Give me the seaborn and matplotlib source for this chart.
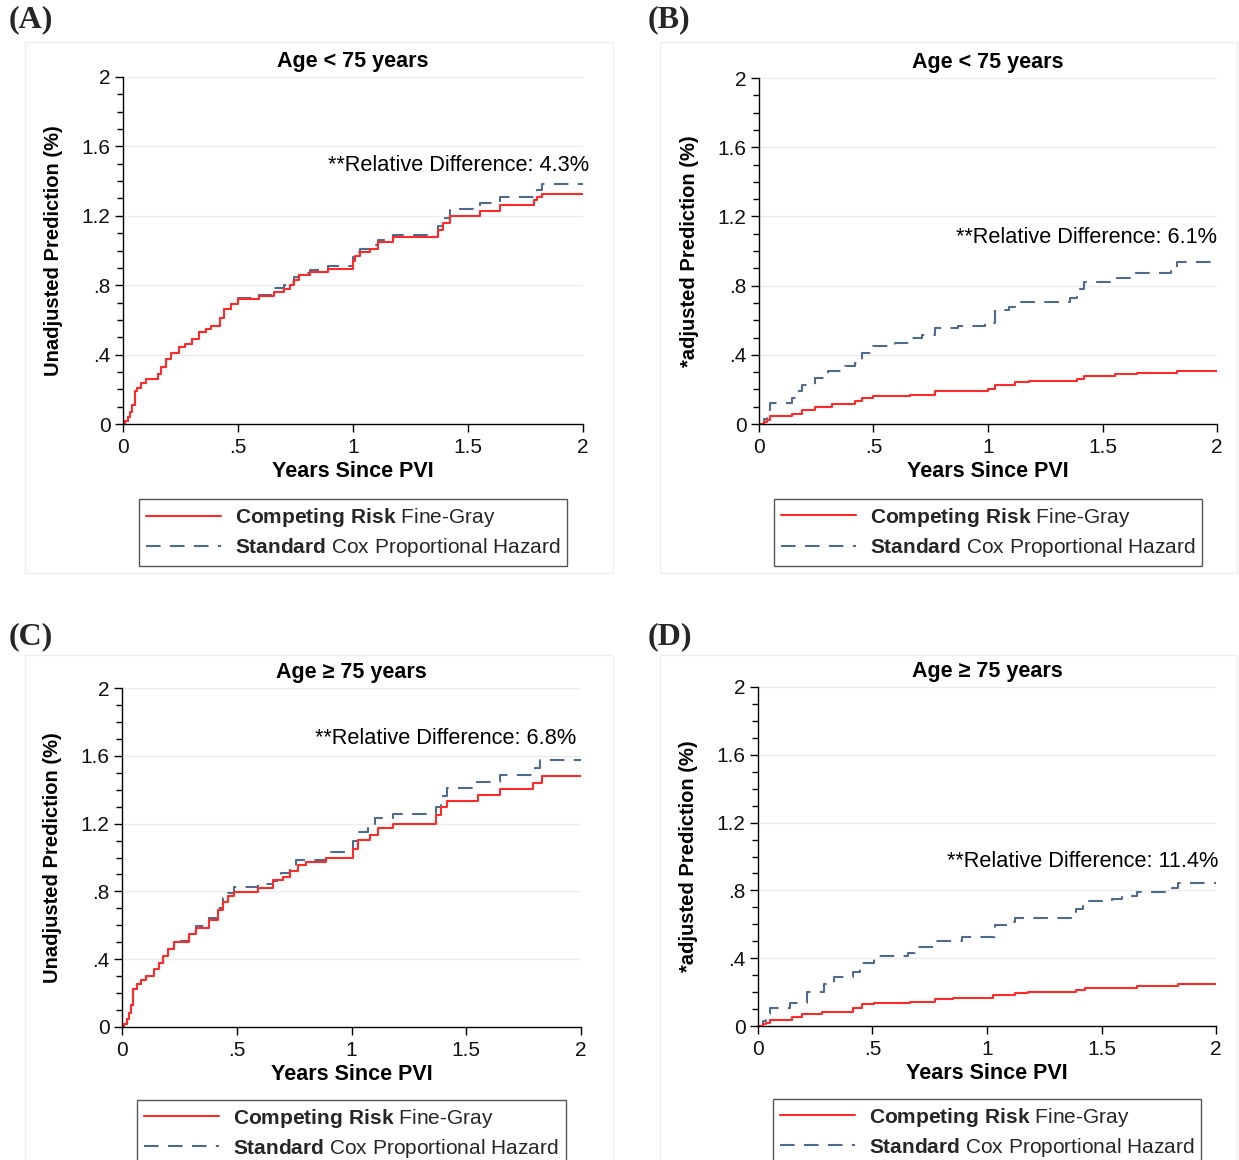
import numpy as np
import pandas as pd
import matplotlib
matplotlib.use("Agg")
import matplotlib.pyplot as plt
import seaborn as sns
from matplotlib.lines import Line2D
from matplotlib.patches import Rectangle

# ---------------- data ----------------
# Panel A: Age < 75, unadjusted
a_red_t = [0, 0.01, 0.02, 0.03, 0.04, 0.05, 0.06, 0.08, 0.10, 0.15, 0.165, 0.186, 0.21, 0.244, 0.27, 0.30, 0.331,
           0.36, 0.382, 0.42, 0.44, 0.47, 0.4985, 0.59, 0.655, 0.70, 0.724, 0.745, 0.767, 0.811, 0.891, 1.0, 1.01,
           1.029, 1.073, 1.109, 1.174, 1.37, 1.39, 1.421, 1.552, 1.64, 1.785, 1.80, 1.82, 2.0]
a_red_v = [0, 0.02, 0.04, 0.07, 0.11, 0.19, 0.21, 0.235, 0.26, 0.29, 0.33, 0.375, 0.41, 0.446, 0.46, 0.49, 0.529,
           0.55, 0.567, 0.61, 0.663, 0.69, 0.721, 0.74, 0.76, 0.779, 0.80, 0.83, 0.856, 0.875, 0.894, 0.94, 0.97,
           0.99, 1.01, 1.048, 1.077, 1.12, 1.16, 1.196, 1.227, 1.26, 1.29, 1.31, 1.327, 1.327]
a_blue_t = [0, 0.01, 0.02, 0.03, 0.04, 0.05, 0.06, 0.08, 0.10, 0.15, 0.165, 0.186, 0.21, 0.244, 0.27, 0.30, 0.331,
            0.36, 0.382, 0.42, 0.44, 0.47, 0.4985, 0.59, 0.655, 0.70, 0.724, 0.745, 0.767, 0.811, 0.891, 1.0, 1.01,
            1.029, 1.073, 1.109, 1.174, 1.37, 1.39, 1.421, 1.552, 1.64, 1.80, 1.82, 2.0]
a_blue_v = [0, 0.02, 0.04, 0.07, 0.11, 0.19, 0.21, 0.235, 0.26, 0.29, 0.33, 0.375, 0.41, 0.446, 0.46, 0.49, 0.529,
            0.55, 0.567, 0.61, 0.663, 0.69, 0.725, 0.744, 0.783, 0.80, 0.82, 0.845, 0.869, 0.885, 0.908, 0.96, 0.99,
            1.01, 1.03, 1.058, 1.087, 1.14, 1.19, 1.24, 1.273, 1.308, 1.35, 1.385, 1.385]

# Panel B: Age < 75, adjusted
b_red_t = [0, 0.02, 0.035, 0.048, 0.143, 0.186, 0.245, 0.318, 0.42, 0.449, 0.5, 0.66, 0.769, 1.0, 1.03,
           1.118, 1.177, 1.39, 1.418, 1.556, 1.65, 1.825, 2.0]
b_red_v = [0, 0.01, 0.025, 0.044, 0.058, 0.083, 0.098, 0.115, 0.131, 0.15, 0.16, 0.169, 0.192, 0.202, 0.227,
           0.24, 0.246, 0.262, 0.275, 0.288, 0.294, 0.304, 0.304]
b_blue_t = [0, 0.02, 0.035, 0.048, 0.143, 0.16, 0.186, 0.245, 0.303, 0.376, 0.42, 0.449, 0.5, 0.594, 0.66,
            0.711, 0.769, 0.871, 0.988, 1.03, 1.09, 1.118, 1.36, 1.39, 1.418, 1.556, 1.643, 1.80, 1.825, 2.0]
b_blue_v = [0, 0.03, 0.08, 0.121, 0.15, 0.19, 0.227, 0.265, 0.304, 0.333, 0.352, 0.413, 0.452, 0.467, 0.496,
            0.515, 0.554, 0.569, 0.583, 0.66, 0.679, 0.708, 0.727, 0.78, 0.823, 0.842, 0.871, 0.91, 0.938, 0.938]

# Panel C: Age >= 75, unadjusted
c_red_t = [0, 0.01, 0.02, 0.03, 0.04, 0.047, 0.065, 0.083, 0.105, 0.141, 0.16, 0.177, 0.2, 0.228, 0.29,
           0.323, 0.381, 0.42, 0.439, 0.46, 0.49, 0.592, 0.657, 0.701, 0.73, 0.767, 0.80, 0.891, 1.005, 1.028,
           1.079, 1.116, 1.181, 1.37, 1.39, 1.414, 1.552, 1.646, 1.792, 1.828, 2.0]
c_red_v = [0, 0.02, 0.05, 0.08, 0.13, 0.227, 0.255, 0.276, 0.3, 0.34, 0.38, 0.418, 0.46, 0.502, 0.55,
           0.587, 0.631, 0.69, 0.739, 0.77, 0.798, 0.822, 0.867, 0.887, 0.92, 0.956, 0.975, 0.995, 1.05, 1.103,
           1.133, 1.172, 1.197, 1.25, 1.30, 1.336, 1.369, 1.403, 1.438, 1.478, 1.478]
c_blue_t = [0, 0.01, 0.02, 0.03, 0.04, 0.047, 0.065, 0.083, 0.105, 0.141, 0.16, 0.177, 0.2, 0.228, 0.29,
            0.323, 0.381, 0.42, 0.439, 0.46, 0.49, 0.592, 0.657, 0.694, 0.73, 0.759, 0.891, 1.005, 1.028, 1.072,
            1.101, 1.181, 1.37, 1.39, 1.414, 1.545, 1.646, 1.80, 1.822, 2.0]
c_blue_v = [0, 0.02, 0.05, 0.08, 0.13, 0.227, 0.255, 0.276, 0.3, 0.34, 0.38, 0.418, 0.46, 0.505, 0.56,
            0.595, 0.645, 0.70, 0.759, 0.79, 0.828, 0.843, 0.86, 0.906, 0.94, 0.985, 1.034, 1.10, 1.153, 1.18,
            1.231, 1.255, 1.30, 1.36, 1.409, 1.448, 1.488, 1.53, 1.576, 1.576]

# Panel D: Age >= 75, adjusted
d_red_t = [0, 0.02, 0.035, 0.054, 0.148, 0.192, 0.279, 0.417, 0.454, 0.505, 0.665, 0.774, 0.85, 1.028,
           1.123, 1.181, 1.39, 1.428, 1.559, 1.654, 1.835, 2.0]
d_red_v = [0, 0.01, 0.02, 0.035, 0.051, 0.069, 0.084, 0.104, 0.13, 0.134, 0.143, 0.157, 0.163, 0.183,
           0.196, 0.198, 0.21, 0.222, 0.226, 0.236, 0.248, 0.248]
d_blue_t = [0, 0.02, 0.035, 0.054, 0.141, 0.214, 0.287, 0.33, 0.417, 0.447, 0.505, 0.657, 0.687, 0.767,
            0.891, 1.036, 1.094, 1.123, 1.39, 1.421, 1.545, 1.589, 1.654, 1.807, 1.835, 2.0]
d_blue_v = [0, 0.03, 0.07, 0.104, 0.138, 0.202, 0.248, 0.291, 0.32, 0.373, 0.413, 0.428, 0.464, 0.503,
            0.527, 0.595, 0.615, 0.64, 0.69, 0.739, 0.747, 0.766, 0.788, 0.817, 0.845, 0.845]

panel_letters = ["(A)", "(B)", "(C)", "(D)"]
panel_titles = ["Age < 75 years", "Age < 75 years", "Age \u2265 75 years", "Age \u2265 75 years"]
y_labels = ["Unadjusted Prediction (%)", "*adjusted Prediction (%)",
            "Unadjusted Prediction (%)", "*adjusted Prediction (%)"]
x_label = "Years Since PVI"
rel_diff = ["**Relative Difference: 4.3%", "**Relative Difference: 6.1%",
            "**Relative Difference: 6.8%", "**Relative Difference: 11.4%"]
y_ticks = [0, 0.4, 0.8, 1.2, 1.6, 2.0]
y_ticklabels = ["0", ".4", ".8", "1.2", "1.6", "2"]
x_ticks = [0, 0.5, 1.0, 1.5, 2.0]
x_ticklabels = ["0", ".5", "1", "1.5", "2"]
legend_labels = [r"$\mathbf{Competing\ Risk}$ Fine-Gray",
                 r"$\mathbf{Standard}$ Cox Proportional Hazard"]

series = [
    (a_red_t, a_red_v, a_blue_t, a_blue_v),
    (b_red_t, b_red_v, b_blue_t, b_blue_v),
    (c_red_t, c_red_v, c_blue_t, c_blue_v),
    (d_red_t, d_red_v, d_blue_t, d_blue_v),
]

# ---------------- style ----------------
sns.set_theme(style="white")
plt.rcParams["font.family"] = ["Liberation Sans", "DejaVu Sans"]
plt.rcParams["mathtext.fontset"] = "custom"
plt.rcParams["mathtext.rm"] = "Liberation Sans"
plt.rcParams["mathtext.bf"] = "Liberation Sans:bold"

RED = "#ff2a2a"
BLUE = "#4f6b8c"
W, H = 1239, 1160
fig = plt.figure(figsize=(W / 100, H / 100), dpi=100)
fig.patch.set_facecolor("white")

# axes rectangles (pixels: left, top, right, bottom)
rects = [(123, 77, 583, 424), (759, 78, 1217, 424), (122, 688, 581, 1027), (758, 687, 1216, 1026)]
boxes = [(25, 42, 613, 573), (660, 42, 1237, 573), (25, 655, 613, 1165), (660, 655, 1237, 1165)]
letter_pos = [(9, 20), (648, 20), (9, 637), (648, 637)]
note_pos = [(2.025, 1.49), (2.0, 1.08), (1.98, 1.70), (2.01, 0.97)]

for i in range(4):
    bx = boxes[i]
    fig.patches.append(Rectangle((bx[0] / W, 1 - bx[3] / H), (bx[2] - bx[0]) / W, (bx[3] - bx[1]) / H,
                                 transform=fig.transFigure, fill=False, edgecolor="#eeeeee", lw=1.0))
    l, t, r, b = rects[i]
    ax = fig.add_axes([l / W, 1 - b / H, (r - l) / W, (b - t) / H])
    ax.set_facecolor("white")
    rt, rv, bt, bv = series[i]
    df_r = pd.DataFrame({"t": rt, "v": rv})
    df_b = pd.DataFrame({"t": bt, "v": bv})
    sns.lineplot(data=df_b, x="t", y="v", ax=ax, color=BLUE, lw=1.5, drawstyle="steps-post",
                 estimator=None, sort=False)
    ax.lines[-1].set_dashes([7, 4.5])
    sns.lineplot(data=df_r, x="t", y="v", ax=ax, color=RED, lw=1.5, drawstyle="steps-post",
                 estimator=None, sort=False)

    ax.set_xlim(0, 2)
    ax.set_ylim(0, 2)
    ax.set_yticks(y_ticks)
    ax.set_yticklabels(y_ticklabels)
    ax.set_yticks(np.arange(0, 2.01, 0.1), minor=True)
    ax.set_xticks(x_ticks)
    ax.set_xticklabels(x_ticklabels)
    for yv in y_ticks[1:]:
        ax.axhline(yv, color="#ececec", lw=1.0, zorder=0)
    for s in ["top", "right"]:
        ax.spines[s].set_visible(False)
    for s in ["left", "bottom"]:
        ax.spines[s].set_color("black")
        ax.spines[s].set_linewidth(1.0)
    ax.tick_params(axis="both", which="major", direction="out", length=6, width=1, color="black",
                   labelsize=15, labelcolor="#111111", pad=3, left=True, bottom=True)
    ax.tick_params(axis="x", which="major", pad=4)
    ax.tick_params(axis="y", which="minor", direction="out", length=4, width=1, color="black", left=True)
    ax.set_xlabel(x_label, fontsize=15.5, fontweight="bold", labelpad=3, color="black")
    ax.set_ylabel(y_labels[i], fontsize=14.5, fontweight="bold", labelpad=13, color="black")
    ax.set_title(panel_titles[i], fontsize=15.5, fontweight="bold", pad=7, color="black")
    ax.text(note_pos[i][0], note_pos[i][1], rel_diff[i], ha="right", va="center", fontsize=15.7,
            color="black", clip_on=False)

    handles = [Line2D([], [], color=RED, lw=1.5),
               Line2D([], [], color=BLUE, lw=1.5, dashes=[7, 4.5])]
    leg = ax.legend(handles, legend_labels, loc="center", bbox_to_anchor=(0.5, -0.313),
                    fontsize=15, frameon=True, fancybox=False, edgecolor="#555555", framealpha=1,
                    handlelength=3.6, handletextpad=0.67, labelspacing=0.34, borderpad=0.33)
    leg.get_frame().set_linewidth(1.0)

    fig.text(letter_pos[i][0] / W, 1 - letter_pos[i][1] / H, panel_letters[i], ha="left", va="center",
             fontsize=23, fontweight="bold", family=["Liberation Serif", "DejaVu Serif"])

fig.savefig("out.png", dpi=100, facecolor="white")
